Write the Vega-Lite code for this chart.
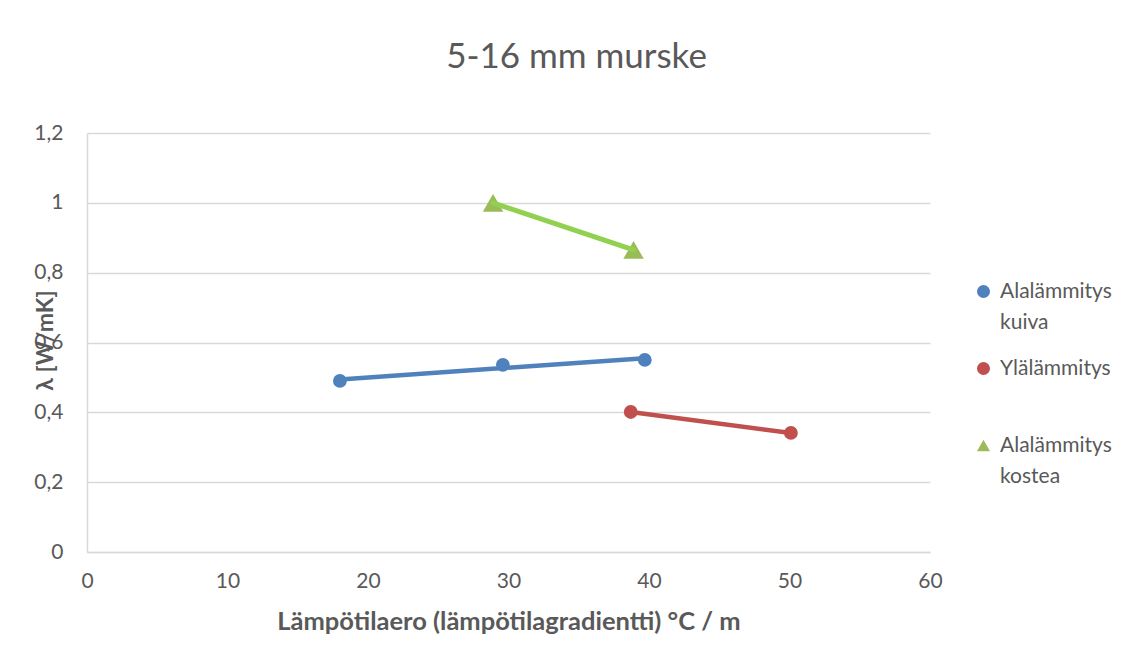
{
  "$schema": "https://vega.github.io/schema/vega-lite/v6.json",
  "width": 843,
  "height": 419,
  "autosize": {"type": "none"},
  "padding": {"left": 87, "top": 133, "right": 201, "bottom": 95},
  "background": "white",
  "title": {"text": "5-16 mm murske", "fontSize": 35, "font": "Lato", "fontWeight": "normal", "color": "#595959", "dx": 68, "offset": 47},
  "config": {"view": {"stroke": null}, "font": "Lato", "style": {"guide-label": {"lineHeight": 31, "dy": -11}}},
  "data": {"values": [
    {"sarja": "Alalämmitys kuiva", "x": 18.0, "lambda": 0.49},
    {"sarja": "Alalämmitys kuiva", "x": 29.6, "lambda": 0.536},
    {"sarja": "Alalämmitys kuiva", "x": 39.7, "lambda": 0.55},
    {"sarja": "Ylälämmitys", "x": 38.7, "lambda": 0.401},
    {"sarja": "Ylälämmitys", "x": 50.1, "lambda": 0.341},
    {"sarja": "Alalämmitys kostea", "x": 28.9, "lambda": 1.0},
    {"sarja": "Alalämmitys kostea", "x": 38.9, "lambda": 0.865}
  ]},
  "encoding": {
    "x": {"field": "x", "type": "quantitative",
      "scale": {"domain": [0, 60], "nice": false, "zero": false},
      "axis": {"values": [0, 10, 20, 30, 40, 50, 60], "grid": false, "ticks": false, "domainColor": "#d9d9d9", "domainWidth": 1.5,
        "labelFlush": false,
        "labelFont": "Lato", "labelFontSize": 21, "labelColor": "#595959", "labelPadding": 29,
        "title": "Lämpötilaero (lämpötilagradientti) °C  / m", "titleFont": "Lato", "titleFontSize": 25.5, "titleFontWeight": "bold", "titleColor": "#595959", "titlePadding": 18}},
    "y": {"field": "lambda", "type": "quantitative",
      "scale": {"domain": [0, 1.2], "nice": false},
      "axis": {"values": [0, 0.2, 0.4, 0.6, 0.8, 1, 1.2], "grid": true, "gridColor": "#d9d9d9", "gridWidth": 1.5, "ticks": false, "domainColor": "#d9d9d9", "domainWidth": 1.5,
        "labelExpr": "replace(format(datum.value, '.1~f'), '.', ',')",
        "labelFont": "Lato", "labelFontSize": 21, "labelColor": "#595959", "labelPadding": 24, "labelOffset": 11,
        "title": "λ [W/mK]", "titleFont": "Lato", "titleFontSize": 23, "titleFontWeight": "bold", "titleColor": "#595959",
        "titleX": -42, "titleY": 207, "titleAngle": -90, "titleBaseline": "middle", "titleAlign": "center"}}
  },
  "layer": [
    {
      "transform": [{"filter": "datum.sarja != 'Alalämmitys kostea'"}],
      "mark": {"type": "point", "filled": true, "opacity": 1, "strokeWidth": 0, "size": 190},
      "encoding": {
        "color": {"field": "sarja", "type": "nominal",
          "scale": {"domain": ["Alalämmitys kuiva", "Ylälämmitys", "Alalämmitys kostea"], "range": ["#4f81bd", "#c0504d", "#9bbb59"]},
          "legend": {"title": null, "orient": "none", "legendX": 886, "legendY": 148,
            "labelExpr": "datum.label == 'Ylälämmitys' ? [datum.label, ''] : split(datum.label, ' ')",
            "labelFont": "Lato", "labelFontSize": 21, "labelColor": "#595959", "labelBaseline": "top", "labelOffset": 6,
            "symbolStrokeWidth": 0, "symbolSize": 170, "rowPadding": 24}},
        "shape": {"field": "sarja", "type": "nominal",
          "scale": {"domain": ["Alalämmitys kuiva", "Ylälämmitys", "Alalämmitys kostea"], "range": ["circle", "circle", "triangle-up"]}}
      }
    },
    {
      "transform": [{"filter": "datum.sarja == 'Alalämmitys kostea'"}],
      "mark": {"type": "point", "filled": true, "opacity": 1, "strokeWidth": 0, "size": 420},
      "encoding": {
        "color": {"field": "sarja", "type": "nominal"},
        "shape": {"field": "sarja", "type": "nominal"}
      }
    },
    {
      "transform": [{"filter": "datum.sarja == 'Alalämmitys kuiva'"}, {"regression": "lambda", "on": "x"}],
      "mark": {"type": "line", "strokeWidth": 4.5, "strokeCap": "round", "color": "#4f81bd"},
      "encoding": {}
    },
    {
      "transform": [{"filter": "datum.sarja == 'Ylälämmitys'"}, {"regression": "lambda", "on": "x"}],
      "mark": {"type": "line", "strokeWidth": 4.5, "strokeCap": "round", "color": "#c0504d"},
      "encoding": {}
    },
    {
      "transform": [{"filter": "datum.sarja == 'Alalämmitys kostea'"}, {"regression": "lambda", "on": "x"}],
      "mark": {"type": "line", "strokeWidth": 5, "strokeCap": "round", "color": "#92d050"},
      "encoding": {}
    }
  ]
}
